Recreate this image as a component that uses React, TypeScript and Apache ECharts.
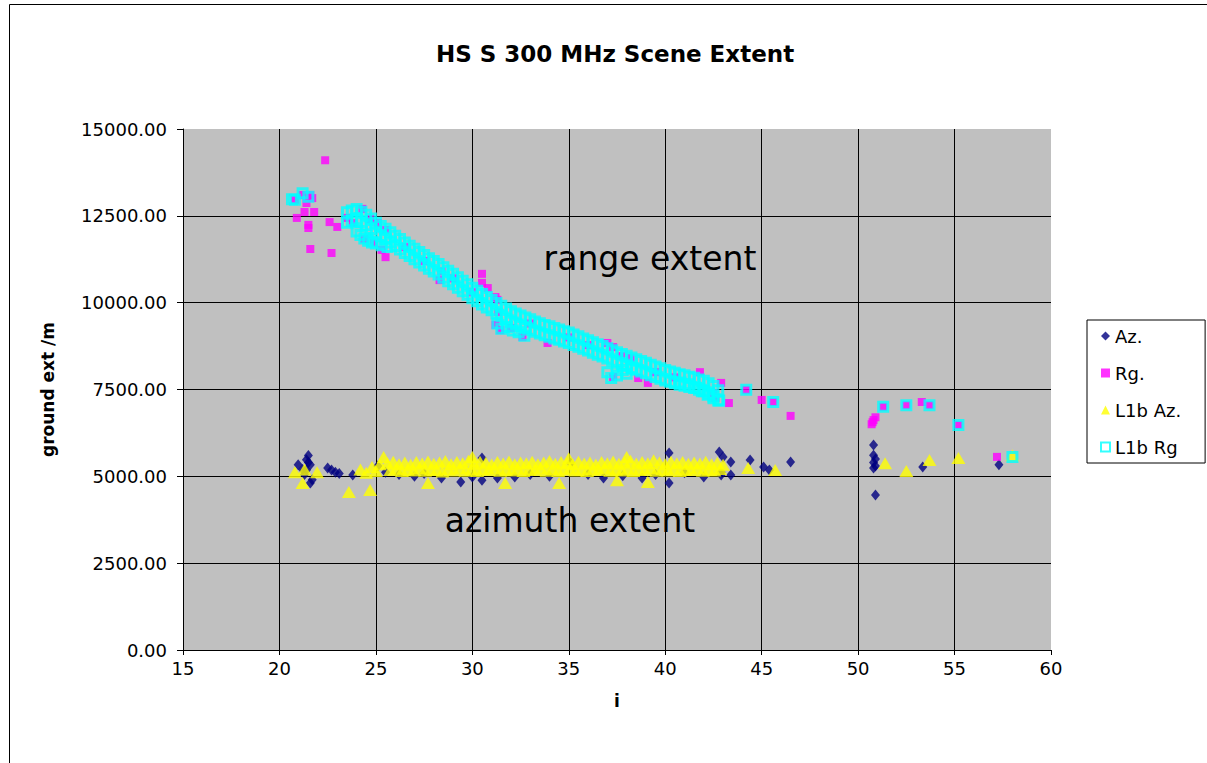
import React, { useEffect, useRef } from "react";
import * as echarts from "echarts";

const titleText = "HS S 300 MHz Scene Extent";
const xName = "i";
const yName = "ground ext /m";
const seriesNames = ["Az.", "Rg.", "L1b Az.", "L1b Rg"];
const xMin = 15, xMax = 60, xStep = 5;
const yMin = 0, yMax = 15000, yStep = 2500;
const annotations = ["range extent", "azimuth extent"];

const azData: number[][] = [
  [20.97, 5330], [21.2, 5200], [21.4, 5480], [21.5, 5600], [21.5, 5400], [21.6, 5330], [21.4, 5180], [21.3, 5050],
  [21.6, 4810], [21.7, 4900], [22.5, 5240], [22.7, 5180], [22.9, 5120], [23.1, 5080], [23.8, 5040], [25.5, 5120],
  [25.1, 5300], [26.2, 5050], [27.0, 5000], [27.5, 5080], [28.4, 4950], [29.4, 4840], [30.0, 4980], [30.5, 4890],
  [30.5, 5530], [31.3, 4950], [32.2, 4980], [33.0, 5050], [34.0, 5000], [35.1, 5380], [36.0, 5050], [36.8, 4950],
  [37.8, 5020], [38.8, 4950], [39.5, 5050], [40.2, 5670], [40.2, 4810], [41.0, 5100], [42.0, 4980], [42.8, 5700],
  [43.0, 5560], [43.4, 5410], [42.9, 5120], [42.9, 5040], [43.4, 5040], [44.4, 5470], [45.1, 5270], [45.4, 5180],
  [46.5, 5410], [50.8, 5900], [50.8, 5610], [50.9, 5500], [50.8, 5400], [50.9, 5300], [50.8, 5240], [50.9, 4460],
  [53.35, 5270], [57.3, 5330]
];

const rgData: number[][] = [
  [22.37, 14100], [21.2, 13100], [21.6, 13100], [21.7, 13010], [20.8, 12960], [21.4, 12870], [21.8, 12610],
  [21.3, 12610], [20.9, 12440], [21.5, 12240], [21.5, 12150], [22.6, 12320], [23.0, 12180], [21.6, 11545],
  [22.7, 11430], [23.5, 12440], [23.8, 12290], [24.3, 12700], [24.7, 12410], [25.1, 12290], [25.5, 12090],
  [24.4, 11830], [24.9, 11720], [25.3, 11520], [25.5, 11310], [26.5, 11600], [27.5, 11200], [28.4, 10900],
  [28.3, 10650], [29.0, 10700], [30.0, 10300], [30.5, 10830], [30.5, 10570], [30.8, 10420], [31.2, 10160],
  [31.3, 10080], [31.35, 9730], [31.2, 9360], [31.45, 9210], [32.0, 9270], [32.6, 9010], [33.0, 9400],
  [33.9, 8840], [35.0, 9000], [36.0, 8780], [37.0, 8840], [37.3, 8720], [37.7, 8460], [38.2, 8410],
  [37.3, 7860], [38.6, 7830], [39.1, 7690], [39.5, 8000], [40.5, 7850], [41.8, 8000], [42.9, 7690],
  [42.5, 7400], [42.6, 7260], [43.3, 7110], [44.2, 7490], [45.0, 7200], [45.6, 7140], [46.5, 6740],
  [50.7, 6500], [50.8, 6620], [50.9, 6700], [50.75, 6560], [51.3, 7000], [52.5, 7050], [53.3, 7140],
  [53.7, 7050], [55.2, 6480], [57.2, 5560]
];

const l1bAzData: number[][] = [
  [20.8, 5120], [21.2, 4810], [21.95, 5120], [21.3, 5200], [23.6, 4550], [24.7, 4610], [24.2, 5200], [24.5, 5100],
  [24.8, 5270], [25.0, 5150], [25.4, 5560], [25.2, 5350],
  [25.6, 5380], [25.9, 5420], [26.2, 5350], [26.5, 5400], [26.8, 5330], [27.1, 5410], [27.4, 5370], [27.7, 5430],
  [28.0, 5360], [28.3, 5400], [28.6, 5440], [28.9, 5350], [29.2, 5410], [29.5, 5380], [29.8, 5450], [30.1, 5360],
  [30.4, 5420], [30.7, 5390], [31.0, 5340], [31.3, 5410], [31.6, 5370], [31.9, 5430], [32.2, 5350], [32.5, 5400],
  [32.8, 5380], [33.1, 5420], [33.4, 5350], [33.7, 5400], [34.0, 5440], [34.3, 5360], [34.6, 5410], [34.9, 5380],
  [35.2, 5350], [35.5, 5420], [35.8, 5370], [36.1, 5400], [36.4, 5340], [36.7, 5410], [37.0, 5380], [37.3, 5430],
  [37.6, 5360], [37.9, 5400], [38.2, 5450], [38.5, 5370], [38.8, 5410], [39.1, 5380], [39.4, 5460], [39.7, 5400],
  [40.0, 5350], [40.3, 5420], [40.6, 5380], [40.9, 5410], [41.2, 5360], [41.5, 5400], [41.8, 5370], [42.1, 5420],
  [42.4, 5350], [42.7, 5390], [43.0, 5330],
  [25.75, 5180], [26.05, 5220], [26.35, 5150], [26.65, 5200], [26.95, 5170], [27.25, 5230], [27.55, 5160],
  [27.85, 5200], [28.15, 5180], [28.45, 5140], [28.75, 5210], [29.05, 5170], [29.35, 5230], [29.65, 5160],
  [29.95, 5200], [30.25, 5150], [30.55, 5210], [30.85, 5180], [31.15, 5230], [31.45, 5160], [31.75, 5200],
  [32.05, 5170], [32.35, 5220], [32.65, 5150], [32.95, 5200], [33.25, 5180], [33.55, 5230], [33.85, 5160],
  [34.15, 5210], [34.45, 5150], [34.75, 5190], [35.05, 5220], [35.35, 5170], [35.65, 5200], [35.95, 5150],
  [36.25, 5210], [36.55, 5180], [36.85, 5230], [37.15, 5160], [37.45, 5200], [37.75, 5170], [38.05, 5220],
  [38.35, 5150], [38.65, 5200], [38.95, 5180], [39.25, 5230], [39.55, 5160], [39.85, 5210], [40.15, 5170],
  [40.45, 5220], [40.75, 5150], [41.05, 5200], [41.35, 5180], [41.65, 5230], [41.95, 5160], [42.25, 5200],
  [42.55, 5170], [42.85, 5210],
  [27.7, 4810], [31.7, 4810], [34.5, 4810], [37.5, 4890], [39.1, 4840], [30.0, 5560], [35.0, 5520], [38.0, 5560],
  [44.3, 5240], [45.7, 5180], [51.4, 5380], [52.5, 5150], [53.7, 5470], [55.2, 5530], [58.0, 5610]
];

const l1bRgData: number[][] = [
  [20.65, 12980], [20.8, 12960], [21.2, 13150], [21.5, 13050],
  [23.5, 12600], [23.75, 12650], [24.0, 12700], [24.25, 12620], [24.5, 12530], [24.75, 12420], [25.0, 12300],
  [25.25, 12210], [25.5, 12130], [25.75, 12030], [26.0, 11930], [26.25, 11830], [26.5, 11730], [26.75, 11640],
  [27.0, 11550], [27.25, 11460], [27.5, 11370], [27.75, 11280], [28.0, 11200], [28.25, 11110], [28.5, 11020],
  [28.75, 10920], [29.0, 10830], [29.25, 10730], [29.5, 10630], [29.75, 10530], [30.0, 10430], [30.25, 10340],
  [30.5, 10250], [30.75, 10160], [31.0, 10080], [31.25, 9990], [31.5, 9910], [31.75, 9830], [32.0, 9750],
  [32.25, 9690], [32.5, 9630], [32.75, 9570], [33.0, 9520], [33.25, 9460], [33.5, 9410], [33.75, 9360],
  [34.0, 9320], [34.25, 9270], [34.5, 9230], [34.75, 9180], [35.0, 9140], [35.25, 9080], [35.5, 9030],
  [35.75, 8970], [36.0, 8920], [36.25, 8860], [36.5, 8800], [36.75, 8750], [37.0, 8690], [37.25, 8630],
  [37.5, 8570], [37.75, 8520], [38.0, 8470], [38.25, 8420], [38.5, 8370], [38.75, 8320], [39.0, 8270],
  [39.25, 8210], [39.5, 8160], [39.75, 8110], [40.0, 8060], [40.25, 8020], [40.5, 7980], [40.75, 7940],
  [41.0, 7910], [41.25, 7870], [41.5, 7840], [41.75, 7790], [42.0, 7750], [42.25, 7680], [42.5, 7600],
  [42.75, 7480],
  [23.5, 12300], [23.75, 12350], [24.0, 12400], [24.25, 12320], [24.5, 12230], [24.75, 12120], [25.0, 12000],
  [25.25, 11910], [25.5, 11830], [25.75, 11730], [26.0, 11630], [26.25, 11530], [26.5, 11430], [26.75, 11340],
  [27.0, 11250], [27.25, 11160], [27.5, 11070], [27.75, 10980], [28.0, 10900], [28.25, 10810], [28.5, 10720],
  [28.75, 10620], [29.0, 10530], [29.25, 10430], [29.5, 10330], [29.75, 10230], [30.0, 10130], [30.25, 10040],
  [30.5, 9950], [30.75, 9860], [31.0, 9780], [31.25, 9690], [31.5, 9610], [31.75, 9530], [32.0, 9450],
  [32.25, 9390], [32.5, 9330], [32.75, 9270], [33.0, 9220], [33.25, 9160], [33.5, 9110], [33.75, 9060],
  [34.0, 9020], [34.25, 8970], [34.5, 8930], [34.75, 8880], [35.0, 8840], [35.25, 8780], [35.5, 8730],
  [35.75, 8670], [36.0, 8620], [36.25, 8560], [36.5, 8500], [36.75, 8450], [37.0, 8390], [37.25, 8330],
  [37.5, 8270], [37.75, 8220], [38.0, 8170], [38.25, 8120], [38.5, 8070], [38.75, 8020], [39.0, 7970],
  [39.25, 7910], [39.5, 7860], [39.75, 7810], [40.0, 7760], [40.25, 7720], [40.5, 7680], [40.75, 7640],
  [41.0, 7610], [41.25, 7570], [41.5, 7540], [41.75, 7490], [42.0, 7450], [42.25, 7380], [42.5, 7300],
  [42.75, 7180],
  [24.0, 12050], [24.2, 11950], [24.4, 11850], [24.6, 11780], [24.8, 11730], [25.0, 11700], [25.3, 11650],
  [25.6, 11600], [31.3, 9400], [31.5, 9250], [31.8, 9300], [32.1, 9200], [32.4, 9150], [32.7, 9050],
  [37.0, 8000], [37.2, 7830], [37.5, 7900], [37.8, 8060], [38.0, 7950], [38.3, 8100],
  [40.8, 7700], [41.2, 7650], [41.6, 7550], [41.9, 7450], [42.2, 7350], [42.5, 7250], [42.8, 7180],
  [44.2, 7490], [45.6, 7140], [51.3, 7000], [52.5, 7050], [53.7, 7050], [55.2, 6480], [58.0, 5560]
];

export default function App() {
  const ref = useRef<HTMLDivElement>(null);
  useEffect(() => {
    if (!ref.current) return;
    const chart = echarts.init(ref.current, undefined, { renderer: "svg" });
    const font = "DejaVu Sans";
    chart.setOption({
      animation: false,
      backgroundColor: "#ffffff",
      textStyle: { fontFamily: font },
      title: {
        text: titleText,
        left: 610,
        textAlign: "center",
        top: 37,
        textStyle: { fontFamily: font, fontWeight: "bold", fontSize: 23, color: "#000" },
      },
      legend: {
        orient: "vertical",
        left: 1087,
        top: 320,
        padding: [7, 24, 7, 13],
        itemGap: 19,
        itemWidth: 9,
        itemHeight: 9,
        borderColor: "#000",
        borderWidth: 1,
        backgroundColor: "#fff",
        textStyle: { fontFamily: font, fontSize: 18, lineHeight: 18, color: "#000" },
        data: [
          { name: seriesNames[0], icon: "diamond" },
          { name: seriesNames[1], icon: "rect" },
          { name: seriesNames[2], icon: "triangle" },
          { name: seriesNames[3], icon: "rect" },
        ],
      },
      grid: {
        left: 183,
        right: 156,
        top: 129,
        bottom: 113,
        show: true,
        backgroundColor: "#C0C0C0",
        borderWidth: 0,
      },
      xAxis: {
        type: "value",
        min: xMin,
        max: xMax,
        interval: xStep,
        name: xName,
        nameLocation: "middle",
        nameGap: 42,
        nameTextStyle: { fontFamily: font, fontWeight: "bold", fontSize: 17, color: "#000" },
        axisLine: { show: true, lineStyle: { color: "#000", width: 1 } },
        axisTick: { show: true, inside: false, length: 5, lineStyle: { color: "#000" } },
        axisLabel: { margin: 9, fontSize: 18, color: "#000", fontFamily: font },
        splitLine: { show: true, showMaxLine: false, lineStyle: { color: "#000", width: 1 } },
      },
      yAxis: {
        type: "value",
        min: yMin,
        max: yMax,
        interval: yStep,
        name: yName,
        nameLocation: "middle",
        nameRotate: 90,
        nameGap: 127,
        nameTextStyle: { fontFamily: font, fontWeight: "bold", fontSize: 17, color: "#000" },
        axisLine: { show: true, lineStyle: { color: "#000", width: 1 } },
        axisTick: { show: true, inside: false, length: 6, lineStyle: { color: "#000" } },
        axisLabel: {
          margin: 16,
          fontSize: 18,
          color: "#000",
          fontFamily: font,
          formatter: (v: number) => v.toFixed(2),
        },
        splitLine: { show: true, showMaxLine: false, lineStyle: { color: "#000", width: 1 } },
      },
      graphic: [
        {
          type: "rect",
          silent: true,
          shape: { x: 9.5, y: 4.5, width: 1400, height: 1000 },
          style: { fill: "none", stroke: "#000", lineWidth: 1 },
        },
        {
          type: "text",
          silent: true,
          x: 650,
          y: 258,
          style: { text: annotations[0], fontFamily: font, fontSize: 33, fill: "#000", align: "center", verticalAlign: "middle" },
        },
        {
          type: "text",
          silent: true,
          x: 570,
          y: 520,
          style: { text: annotations[1], fontFamily: font, fontSize: 33, fill: "#000", align: "center", verticalAlign: "middle" },
        },
      ],
      series: [
        {
          name: seriesNames[0],
          type: "scatter",
          symbol: "diamond",
          symbolSize: [9, 11],
          itemStyle: { color: "#000080" },
          data: azData,
        },
        {
          name: seriesNames[1],
          type: "scatter",
          symbol: "rect",
          symbolSize: 8,
          itemStyle: { color: "#FF00FF" },
          data: rgData,
        },
        {
          name: seriesNames[2],
          type: "scatter",
          symbol: "triangle",
          symbolSize: [14, 12],
          itemStyle: { color: "#FFFF00" },
          data: l1bAzData,
        },
        {
          name: seriesNames[3],
          type: "scatter",
          symbol: "rect",
          symbolSize: 9,
          itemStyle: { color: "rgba(0,0,0,0)", borderColor: "#00FFFF", borderWidth: 3 },
          data: l1bRgData,
        },
      ],
    });
    return () => chart.dispose();
  }, []);
  return (
    <div
      ref={ref}
      style={{ position: "fixed", left: 0, top: 0, width: 1207, height: 763 }}
    />
  );
}
